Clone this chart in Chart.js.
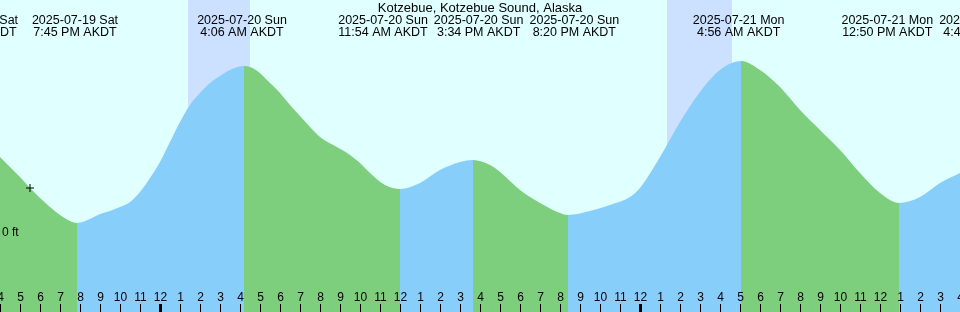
<!DOCTYPE html>
<html>
<head>
<meta charset="utf-8">
<title>Kotzebue tides</title>
<script src="https://cdn.jsdelivr.net/npm/chart.js@4/dist/chart.umd.min.js"></script>
<style>
  body { margin: 0; background: #e0ffff; }
  canvas { display: block; }
</style>
</head>
<body>
<canvas id="tides" width="960" height="312"></canvas>
<script>
const title = 'Kotzebue, Kotzebue Sound, Alaska';

// time axis: hours after 2025-07-20 00:00 AKDT
const hours = [-8, -7.5, -7, -6.5, -6, -5.5, -5, -4.5, -4.15,
  -3.5, -3, -2.5, -2, -1.5, -1, -0.5, 0, 0.5, 1, 1.5, 2, 2.5, 3, 3.5, 4.2,
  4.8, 5.5, 6, 6.5, 7, 7.5, 8, 8.75, 9.35, 10, 10.5, 11.25, 12,
  13, 14, 15, 15.65, 16.5, 17, 18, 19, 20, 20.4,
  21.5, 22.5, 23.5, 24, 25, 26, 27, 28, 29.05,
  30, 31, 32, 33, 34, 35, 36, 36.95, 38, 39, 40];
const heightFt = [0.300, 0.260, 0.220, 0.176, 0.136, 0.100, 0.068, 0.044, 0.036,
  0.052, 0.072, 0.084, 0.100, 0.120, 0.160, 0.216, 0.280, 0.360, 0.440, 0.508, 0.556, 0.596, 0.624, 0.648, 0.664,
  0.648, 0.596, 0.556, 0.508, 0.464, 0.420, 0.380, 0.344, 0.316, 0.276, 0.236, 0.188, 0.172,
  0.196, 0.248, 0.280, 0.288, 0.268, 0.240, 0.168, 0.116, 0.076, 0.068,
  0.084, 0.108, 0.140, 0.176, 0.300, 0.440, 0.560, 0.648, 0.684,
  0.648, 0.580, 0.488, 0.408, 0.328, 0.236, 0.156, 0.116, 0.140, 0.196, 0.236];

// high / low tide events
const eventHours = [-9.25, -4.25, 4.1, 11.9, 15.567, 20.333, 28.933, 36.833, 40.783];
const eventDates = ['2025-07-19 Sat', '2025-07-19 Sat', '2025-07-20 Sun', '2025-07-20 Sun', '2025-07-20 Sun',
  '2025-07-20 Sun', '2025-07-21 Mon', '2025-07-21 Mon', '2025-07-21 Mon'];
const eventTimes = ['2:45 PM AKDT', '7:45 PM AKDT', '4:06 AM AKDT', '11:54 AM AKDT', '3:34 PM AKDT',
  '8:20 PM AKDT', '4:56 AM AKDT', '12:50 PM AKDT', '4:47 PM AKDT'];

// night (sunset -> sunrise)
const nightStart = [1.4, 25.35];
const nightEnd = [4.5, 28.6];

// current time marker
const nowHour = [-6.5];
const nowFt = [0.176];

const dayColor = '#e0ffff';
const nightColor = '#cce0ff';
const riseColor = '#87cefa';
const fallColor = '#7dce7d';
const font = '"Liberation Sans", Arial, sans-serif';

function hourLabel(h) {
  const hod = ((h % 24) + 24) % 24;
  return String(hod % 12 === 0 ? 12 : hod % 12);
}

// centre each group of overlapping labels on its events
function layoutLabels(xs, widths, gap) {
  let groups = xs.map((x, i) => ({ idx: [i] }));
  const place = g => {
    const total = g.idx.reduce((s, i) => s + widths[i], 0) + gap * (g.idx.length - 1);
    const mean = g.idx.reduce((s, i) => s + xs[i], 0) / g.idx.length;
    g.left = mean - total / 2;
    g.right = mean + total / 2;
  };
  groups.forEach(place);
  let merged = true;
  while (merged) {
    merged = false;
    for (let i = 0; i < groups.length - 1; i++) {
      if (groups[i].right + gap > groups[i + 1].left) {
        groups[i].idx = groups[i].idx.concat(groups[i + 1].idx);
        groups.splice(i + 1, 1);
        place(groups[i]);
        merged = true;
        break;
      }
    }
  }
  const centres = [];
  groups.forEach(g => {
    let x = g.left;
    g.idx.forEach(i => {
      centres[i] = x + widths[i] / 2;
      x += widths[i] + gap;
    });
  });
  return centres;
}

const tidePlugin = {
  id: 'tide',
  beforeDatasetsDraw(chart) {
    const { ctx, chartArea: a, scales: { x } } = chart;
    ctx.save();
    ctx.fillStyle = dayColor;
    ctx.fillRect(0, 0, chart.width, chart.height);
    ctx.fillStyle = nightColor;
    nightStart.forEach((s, i) => {
      const x0 = x.getPixelForValue(s);
      const x1 = x.getPixelForValue(nightEnd[i]);
      ctx.fillRect(x0, a.top, x1 - x0, a.bottom - a.top);
    });
    ctx.restore();
  },
  afterDatasetsDraw(chart) {
    const { ctx, chartArea: a, scales: { x, y } } = chart;
    ctx.save();
    ctx.fillStyle = '#000';

    // hour ticks along the bottom
    ctx.font = '12px ' + font;
    ctx.textAlign = 'center';
    ctx.textBaseline = 'alphabetic';
    x.ticks.forEach(t => {
      const px = Math.round(x.getPixelForValue(t.value));
      const midnight = ((t.value % 24) + 24) % 24 === 0;
      if (midnight) ctx.fillRect(px - 1, a.bottom - 8, 3, 8);
      else ctx.fillRect(px, a.bottom - 8, 1, 8);
      ctx.fillText(hourLabel(t.value), px + 0.5, a.bottom - 11);
    });

    // depth label
    ctx.textAlign = 'left';
    ctx.fillText('0 ft', 2, y.getPixelForValue(0) + 4);

    // title
    ctx.textAlign = 'center';
    ctx.font = '13px ' + font;
    ctx.fillText(title, (a.left + a.right) / 2, 12);

    // high / low labels
    ctx.font = '12.5px ' + font;
    const xs = eventHours.map(h => x.getPixelForValue(h));
    const widths = eventDates.map((d, i) =>
      Math.max(ctx.measureText(d).width, ctx.measureText(eventTimes[i]).width));
    const centres = layoutLabels(xs, widths, 6);
    centres.forEach((cx, i) => {
      ctx.fillText(eventDates[i], cx, 24);
      ctx.fillText(eventTimes[i], cx, 36);
    });
    ctx.restore();
  }
};

new Chart(document.getElementById('tides'), {
  type: 'line',
  data: {
    datasets: [{
      label: 'now',
      data: nowHour.map((h, i) => ({ x: h, y: nowFt[i] })),
      showLine: false,
      fill: false,
      pointStyle: 'cross',
      pointRadius: 4,
      borderColor: '#000',
      borderWidth: 1
    }, {
      label: 'Tide height (ft)',
      data: hours.map((h, i) => ({ x: h, y: heightFt[i] })),
      fill: 'start',
      cubicInterpolationMode: 'monotone',
      borderWidth: 0,
      borderColor: 'rgba(0,0,0,0)',
      backgroundColor: riseColor,
      pointRadius: 0,
      segment: {
        backgroundColor: c => c.p1.parsed.y < c.p0.parsed.y ? fallColor : riseColor
      }
    }]
  },
  options: {
    responsive: false,
    animation: false,
    layout: { padding: 0, autoPadding: false },
    scales: {
      x: {
        type: 'linear',
        display: false,
        min: -8,
        max: 40,
        ticks: { stepSize: 1, autoSkip: false }
      },
      y: {
        display: false,
        min: -0.32,
        max: 0.928
      }
    },
    plugins: {
      legend: { display: false },
      tooltip: { enabled: false }
    }
  },
  plugins: [tidePlugin]
});
</script>
</body>
</html>
